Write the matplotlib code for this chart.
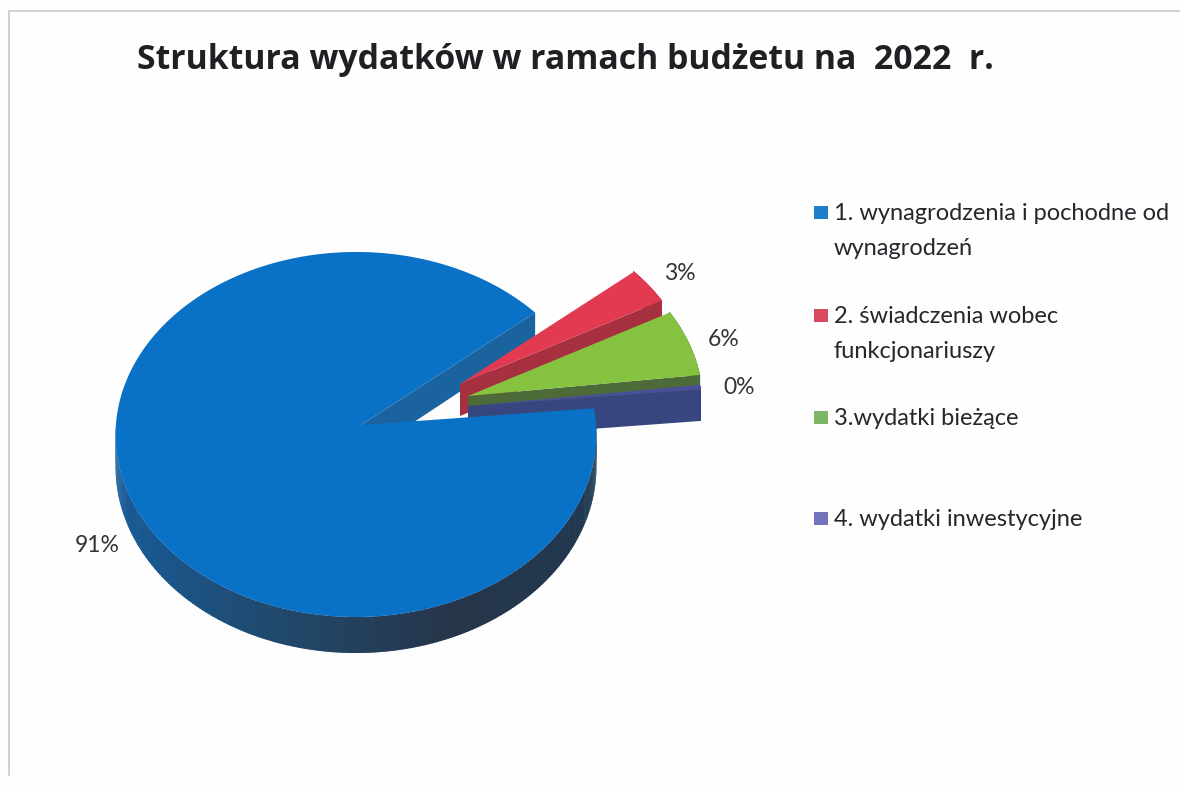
import numpy as np
import matplotlib
matplotlib.use("Agg")
import matplotlib.pyplot as plt
from matplotlib.patches import Polygon, Rectangle

# ---- data ----
title = "Struktura wydatków w ramach budżetu na  2022  r."
categories = ["1. wynagrodzenia i pochodne od\nwynagrodzeń",
              "2. świadczenia wobec\nfunkcjonariuszy",
              "3.wydatki bieżące",
              "4. wydatki inwestycyjne"]
values = [91.0, 3.3, 6.1, 0.4]

# ---- style ----
top_colors = ["#0a72c6", "#e23a50", "#84c240", "#4a4f9c"]
wall_colors = ["#1b639f", "#a62f40", "#4d6b38", "#38467f"]
legend_colors = ["#1d7fca", "#d94a60", "#7db765", "#7173bb"]
label_xy = [(97, 545), (680, 274), (724, 340), (739, 387)]
explode_px = [(0, 0), (99, -41), (107, -29), (107, -19)]
radius = [1.0, 1.0, 1.0, 1.0]
legend_y = [212, 315, 417, 518]
START_ANGLE = 40.4
CX, CY = 361, 425
A, B, KY, KX = 182.0, 240.0, 0.052, -0.0208
grad_a = [180, 215, 255, 290, 330, 370]
grad_c = [(0.11, 0.38, 0.62), (0.10, 0.34, 0.56), (0.13, 0.28, 0.41),
          (0.15, 0.21, 0.29), (0.13, 0.22, 0.31), (0.09, 0.26, 0.35)]


def project(a_deg, r):
    """Perspective view of a point of the unit pie disc; y grows downward."""
    a = np.radians(a_deg)
    x, y = r * np.cos(a), -r * np.sin(a)
    w = 1 - KY * y - KX * x
    return CX + B * x / w, CY + A * y / w, 32 + 4 * y


def top_poly(a0, a1, r, off):
    ang = np.linspace(a0, a1, 240)
    xs, ys, _ = project(ang, r)
    return np.vstack([[CX + off[0], CY + off[1]],
                      np.column_stack([xs + off[0], ys + off[1]])])


def radial_wall(a, r, off):
    x, y, d = project(a, r)
    ox, oy = CX + off[0], CY + off[1]
    return [(ox, oy), (x + off[0], y + off[1]),
            (x + off[0], y + off[1] + d), (ox, oy + 32)]


def outer_wall(ax, a0, a1, r, off, color_fn, z):
    ang = np.linspace(a0, a1, int(max(abs(a1 - a0) * 1.5, 4)))
    for p, q in zip(ang[:-1], ang[1:]):
        x0, y0, d0 = project(p, r)
        x1, y1, d1 = project(q + 0.4, r)
        ax.add_patch(Polygon([(x0 + off[0], y0 + off[1]), (x1 + off[0], y1 + off[1]),
                              (x1 + off[0], y1 + off[1] + d1), (x0 + off[0], y0 + off[1] + d0)],
                             closed=True, fc=color_fn(p), ec="none", zorder=z))


def blue_wall(a):
    a = a if a >= 180 else a + 360
    return tuple(np.interp(a, grad_a, [c[i] for c in grad_c]) for i in range(3))


fig = plt.figure(figsize=(11.8, 7.91), dpi=100, facecolor="#fefefe")
ax = fig.add_axes([0, 0, 1, 1])
ax.set_xlim(0, 1180)
ax.set_ylim(791, 0)
ax.axis("off")

# chart frame (left and top edges visible in the scan)
ax.plot([8.5, 8.5, 1180], [775, 11, 11], color="#c9c9c9", lw=1.2, zorder=1)

# slice angles run clockwise from the start angle
spans = np.array(values) / sum(values) * 360
bounds = []
cur = START_ANGLE
bounds.append((cur, cur + spans[0]))      # first slice goes the long way round
for s in spans[1:]:
    bounds.append((cur - s, cur))
    cur -= s

# back wall of the large slice
a0, a1 = bounds[0]
ax.add_patch(Polygon(radial_wall(a0, 1.0, (0, 0)), closed=True, fc=wall_colors[0], ec="none", zorder=2))

# exploded slices
for i in (1, 2, 3):
    lo, hi = bounds[i]
    off, r = explode_px[i], radius[i]
    z = 3 + i
    outer_wall(ax, lo, hi, r, off, lambda _a, c=wall_colors[i]: c, z)
    ax.add_patch(Polygon(radial_wall(lo, r, off), closed=True, fc=wall_colors[i], ec="none", zorder=z))
    ax.add_patch(Polygon(top_poly(lo, hi, r, off), closed=True, fc=top_colors[i], ec="none", zorder=z + 0.5))

# large slice, in front
outer_wall(ax, 180, a1, 1.0, (0, 0), blue_wall, 8)
ax.add_patch(Polygon(top_poly(a0, a1, 1.0, (0, 0)), closed=True, fc=top_colors[0], ec="none", zorder=9))

# value labels
for v, (x, y) in zip(values, label_xy):
    ax.text(x, y, f"{v:.0f}%", family="Lato", fontsize=16.5, color="#333333",
            ha="center", va="center", zorder=10)

# legend
for name, c, y in zip(categories, legend_colors, legend_y):
    ax.add_patch(Rectangle((814, y - 6), 14, 13, fc=c, ec="none", zorder=10))
    ax.text(834, y - 9, name, family="Lato", fontsize=17, color="#26262c",
            ha="left", va="top", linespacing=1.85, zorder=10)

ax.text(137, 60, title, family="Open Sans", fontweight="bold", fontsize=24.4,
        color="#1f2024", ha="left", va="center", zorder=10)

fig.savefig("out.png", dpi=100, facecolor=fig.get_facecolor())
